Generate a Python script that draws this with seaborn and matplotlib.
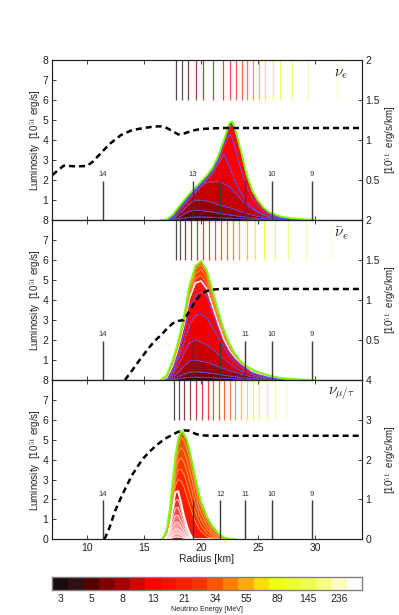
import numpy as np
import pandas as pd
import matplotlib
matplotlib.use("Agg")
import matplotlib.pyplot as plt
import seaborn as sns
from matplotlib.colors import ListedColormap

# ---------------- data ----------------
energy_ticklabels = ["3", "5", "8", "13", "21", "34", "55", "89", "145", "236"]
energy_colors = ['#1a0c0e', '#2e1015', '#560000', '#7e0000', '#a80000', '#d40000',
                 '#ff0000', '#ff1000', '#ff2000', '#ff3300', '#ff5500', '#ff8000',
                 '#ffaa00', '#ffdd00', '#eeff10', '#eeff30', '#f0ff50', '#f6ff80',
                 '#ffffc0', '#ffffff']

density_radius = [11.4, 19.3, 21.7, 23.85, 26.2, 29.7]
density_labels = ["14", "13", "12", "11", "10", "9"]

# nu_e
nue_sphere = [17.81, 18.31, 18.89, 19.53, 20.2, 21.08, 21.95, 22.54, 23.06, 23.56,
              24.0, 24.52, 25.1, 25.6, 26.27, 26.9, 27.93, 29.39, 31.93]
nue_dash_r = [7, 7.5, 8, 9, 10, 10.5, 11, 12, 13, 14, 15, 16, 16.5, 17, 17.5, 18, 18.5,
              19, 19.5, 20, 21, 22, 25, 30, 34]
nue_dash_L = [2.25, 2.5, 2.72, 2.68, 2.7, 2.9, 3.2, 3.8, 4.25, 4.5, 4.6, 4.68, 4.68, 4.6,
              4.45, 4.28, 4.32, 4.42, 4.5, 4.55, 4.58, 4.6, 4.6, 4.6, 4.6]
nue_r = [16.5, 17, 17.5, 18, 18.5, 19, 19.5, 20, 20.5, 21, 21.5, 22, 22.5, 22.75, 23,
         23.5, 24, 24.5, 25, 25.5, 26, 27, 28, 29, 30]
nue_L1 = [0, 0, 0, 0.04, 0.1, 0.14, 0.16, 0.16, 0.15, 0.14, 0.12, 0.11, 0.1, 0.09, 0.08,
          0.07, 0.05, 0.04, 0.03, 0.02, 0.015, 0.01, 0, 0, 0]
nue_L2 = [0, 0, 0.02, 0.12, 0.3, 0.45, 0.5, 0.48, 0.44, 0.4, 0.35, 0.3, 0.26, 0.24, 0.22,
          0.18, 0.14, 0.11, 0.08, 0.06, 0.04, 0.02, 0.01, 0, 0]
nue_L3 = [0, 0, 0.05, 0.3, 0.55, 0.85, 1.0, 1.0, 0.95, 0.87, 0.78, 0.7, 0.62, 0.57, 0.52,
          0.42, 0.33, 0.25, 0.19, 0.14, 0.1, 0.05, 0.02, 0, 0]
nue_L4 = [0, 0, 0.1, 0.45, 0.78, 1.1, 1.38, 1.72, 1.88, 1.92, 1.92, 1.82, 1.65, 1.5, 1.35,
          1.02, 0.76, 0.54, 0.38, 0.25, 0.16, 0.07, 0.03, 0.01, 0]
nue_L5 = [0, 0, 0.12, 0.48, 0.82, 1.16, 1.46, 1.76, 2.03, 2.35, 2.85, 3.3, 2.6, 2.28, 1.88,
          1.32, 0.9, 0.62, 0.42, 0.27, 0.17, 0.07, 0.03, 0.01, 0]
nue_L6 = [0, 0, 0.13, 0.5, 0.85, 1.19, 1.49, 1.79, 2.08, 2.44, 2.98, 3.75, 4.3, 4.0, 3.5,
          2.45, 1.67, 1.08, 0.68, 0.42, 0.27, 0.11, 0.05, 0.02, 0]
nue_L7 = [0, 0, 0.15, 0.52, 0.88, 1.22, 1.52, 1.82, 2.12, 2.5, 3.1, 3.9, 4.72, 4.76, 4.38,
          3.38, 2.2, 1.42, 0.92, 0.58, 0.36, 0.16, 0.07, 0.03, 0.01]
nue_T = [0, 0.03, 0.25, 0.62, 0.98, 1.32, 1.62, 1.92, 2.22, 2.6, 3.2, 4.0, 4.85, 4.92, 4.5,
         3.45, 2.25, 1.45, 0.95, 0.6, 0.38, 0.17, 0.08, 0.04, 0.01]

# anti nu_e
anue_sphere = [17.79, 18.16, 18.6, 19.12, 19.68, 20.2, 20.73, 21.22, 21.72, 22.25, 22.77,
               23.35, 24.0, 24.72, 25.54, 26.47, 27.64, 29.19, 31.37]
anue_dash_r = [13.35, 13.5, 14, 14.5, 15, 15.5, 16, 16.5, 17, 17.5, 18, 18.5, 19, 19.5, 20,
               20.5, 21, 22, 25, 30, 34]
anue_dash_L = [0, 0.12, 0.5, 0.9, 1.28, 1.65, 1.98, 2.25, 2.55, 2.82, 2.95, 3.0, 3.45, 3.95,
               4.3, 4.45, 4.52, 4.56, 4.56, 4.55, 4.55]
anue_r = [16.5, 17, 17.5, 18, 18.5, 19, 19.5, 20, 20.5, 21, 21.5, 22, 22.5, 23, 23.5, 24,
          24.5, 25, 26, 27, 28, 29, 30]
anue_B0 = [0, 0, 0.02, 0.06, 0.11, 0.14, 0.15, 0.14, 0.13, 0.12, 0.1, 0.09, 0.08, 0.06, 0.05,
           0.04, 0.03, 0.02, 0.01, 0.005, 0, 0, 0]
anue_B1 = [0, 0.01, 0.06, 0.17, 0.3, 0.4, 0.42, 0.4, 0.37, 0.33, 0.29, 0.25, 0.21, 0.17, 0.13,
           0.1, 0.08, 0.06, 0.03, 0.015, 0.007, 0, 0]
anue_B2 = [0, 0.03, 0.15, 0.4, 0.72, 0.97, 1.0, 0.95, 0.87, 0.78, 0.68, 0.57, 0.47, 0.38, 0.3,
           0.23, 0.17, 0.13, 0.07, 0.03, 0.015, 0.005, 0]
anue_B3 = [0, 0.05, 0.28, 0.75, 1.35, 1.9, 2.0, 1.9, 1.75, 1.55, 1.3, 1.05, 0.82, 0.62, 0.47,
           0.36, 0.27, 0.2, 0.1, 0.045, 0.02, 0.007, 0]
anue_B4 = [0, 0.08, 0.42, 1.08, 1.92, 2.82, 3.25, 3.3, 3.1, 2.6, 2.1, 1.6, 1.17, 0.87, 0.65,
           0.49, 0.36, 0.27, 0.14, 0.065, 0.03, 0.01, 0]
anue_B5 = [0, 0.1, 0.55, 1.35, 2.4, 3.6, 4.25, 4.42, 4.2, 3.35, 2.6, 1.9, 1.38, 1.02, 0.77,
           0.58, 0.41, 0.32, 0.17, 0.08, 0.035, 0.012, 0]
anue_W = [0, 0.12, 0.7, 1.6, 2.75, 4.1, 4.85, 4.95, 4.57, 3.7, 2.85, 2.05, 1.5, 1.12, 0.85,
          0.65, 0.44, 0.34, 0.19, 0.09, 0.04, 0.015, 0]
anue_O1 = [0, 0.15, 0.76, 1.66, 2.82, 4.25, 5.08, 5.25, 4.82, 3.9, 3.0, 2.18, 1.58, 1.17, 0.87,
           0.66, 0.47, 0.36, 0.2, 0.093, 0.043, 0.017, 0]
anue_O2 = [0, 0.18, 0.82, 1.72, 2.9, 4.4, 5.3, 5.55, 5.08, 4.1, 3.15, 2.3, 1.66, 1.21, 0.88,
           0.67, 0.49, 0.38, 0.21, 0.095, 0.046, 0.02, 0]
anue_O3 = [0, 0.22, 0.88, 1.8, 3.0, 4.55, 5.5, 5.78, 5.3, 4.3, 3.3, 2.4, 1.72, 1.25, 0.9,
           0.68, 0.5, 0.39, 0.215, 0.098, 0.048, 0.02, 0]
anue_T = [0, 0.25, 0.95, 1.9, 3.15, 4.75, 5.68, 5.95, 5.5, 4.5, 3.45, 2.5, 1.8, 1.3, 0.92,
          0.7, 0.52, 0.4, 0.22, 0.1, 0.05, 0.02, 0]

# nu_mu/tau
numu_sphere = [17.64, 18.05, 18.51, 19.04, 19.56, 20.09, 20.59, 21.08, 21.58, 22.04, 22.51,
               23.0, 23.5, 24.0, 24.52, 25.1, 25.75, 26.47, 27.44]
numu_dash_r = [11.55, 12, 12.5, 13, 13.5, 14, 14.5, 15, 15.5, 16, 16.5, 17, 17.5, 18, 18.5,
               19, 19.5, 20, 21, 25, 30, 34]
numu_dash_L = [0, 0.6, 1.45, 2.1, 2.7, 3.25, 3.7, 4.1, 4.4, 4.68, 4.9, 5.1, 5.25, 5.4, 5.47,
               5.45, 5.3, 5.22, 5.2, 5.2, 5.2, 5.2]
numu_r = [16.5, 16.75, 17, 17.25, 17.5, 17.75, 18, 18.25, 18.5, 18.75, 19, 19.25, 19.5,
          19.75, 20, 20.5, 21, 21.5, 22, 22.5, 23]
numu_I0 = [0, 0, 0, 0.03, 0.08, 0.12, 0.12, 0.09, 0.06, 0.03, 0.01, 0, 0, 0, 0, 0, 0, 0, 0, 0, 0]
numu_I1 = [0, 0, 0.01, 0.07, 0.19, 0.29, 0.29, 0.22, 0.14, 0.07, 0.02, 0, 0, 0, 0, 0, 0, 0, 0, 0, 0]
numu_I2 = [0, 0, 0.02, 0.13, 0.35, 0.53, 0.53, 0.4, 0.25, 0.12, 0.04, 0, 0, 0, 0, 0, 0, 0, 0, 0, 0]
numu_I3 = [0, 0, 0.04, 0.22, 0.58, 0.86, 0.86, 0.64, 0.4, 0.2, 0.07, 0, 0, 0, 0, 0, 0, 0, 0, 0, 0]
numu_I4 = [0, 0.01, 0.06, 0.3, 0.8, 1.2, 1.2, 0.9, 0.58, 0.3, 0.1, 0.01, 0, 0, 0, 0, 0, 0, 0, 0, 0]
numu_I5 = [0, 0.01, 0.08, 0.4, 1.05, 1.58, 1.6, 1.2, 0.78, 0.4, 0.15, 0.02, 0, 0, 0, 0, 0, 0, 0, 0, 0]
numu_I6 = [0, 0.02, 0.1, 0.5, 1.3, 1.95, 2.0, 1.5, 0.98, 0.52, 0.2, 0.03, 0, 0, 0, 0, 0, 0, 0, 0, 0]
numu_W = [0, 0.05, 0.15, 0.65, 1.58, 2.35, 2.42, 1.85, 1.2, 0.7, 0.3, 0.07, 0, 0, 0, 0, 0, 0, 0, 0, 0]
numu_Q0 = [0, 0.06, 0.28, 0.88, 1.85, 2.72, 3.02, 2.92, 2.62, 2.17, 1.7, 1.28, 0.9, 0.6, 0.4,
           0.15, 0.05, 0.01, 0, 0, 0]
numu_Q1 = [0, 0.07, 0.32, 0.98, 2.02, 3.02, 3.5, 3.52, 3.27, 2.82, 2.3, 1.8, 1.35, 0.98, 0.68,
           0.31, 0.12, 0.03, 0, 0, 0]
numu_Q2 = [0, 0.08, 0.36, 1.08, 2.2, 3.32, 3.95, 4.1, 3.88, 3.42, 2.88, 2.33, 1.8, 1.35, 0.98,
           0.5, 0.22, 0.07, 0.01, 0, 0]
numu_Q3 = [0, 0.09, 0.4, 1.18, 2.4, 3.62, 4.38, 4.62, 4.42, 4.0, 3.45, 2.85, 2.25, 1.72, 1.3,
           0.7, 0.34, 0.13, 0.03, 0, 0]
numu_Q4 = [0, 0.1, 0.44, 1.28, 2.58, 3.9, 4.75, 5.12, 4.95, 4.55, 4.0, 3.35, 2.7, 2.1, 1.6,
           0.92, 0.48, 0.2, 0.06, 0.01, 0]
numu_T = [0, 0.12, 0.5, 1.4, 2.78, 4.15, 5.02, 5.45, 5.3, 5.0, 4.45, 3.8, 3.1, 2.45, 1.9,
          1.15, 0.65, 0.3, 0.1, 0.03, 0]

# ---------------- style ----------------
sns.set_theme(style="white")
plt.rcParams['font.family'] = ['Liberation Sans', 'DejaVu Sans']
plt.rcParams['axes.linewidth'] = 0.8
plt.rcParams['axes.edgecolor'] = '#222222'
plt.rcParams['mathtext.fontset'] = 'cm'

BLUE = '#4a4aff'
GREEN = '#77ff00'
ORANGE = '#ff8c40'
XL = (6.96, 34.09)

fig = plt.figure(figsize=(3.99, 6.15), dpi=100)
L, W = 52 / 399, 310 / 399
ax1 = fig.add_axes([L, (615 - 220) / 615, W, 160 / 615])
ax2 = fig.add_axes([L, (615 - 380) / 615, W, 160 / 615])
ax3 = fig.add_axes([L, (615 - 539.3) / 615, W, 159.3 / 615])
cax = fig.add_axes([52.3 / 399, (615 - 590) / 615, 310 / 399, 12.7 / 615])


def stack(ax, r, bounds, fills, edges, widths):
    lower = np.zeros(len(r))
    for b, fc in zip(bounds, fills):
        ax.fill_between(r, lower, b, color=fc, lw=0, zorder=2)
        lower = np.asarray(b, dtype=float)
    for b, ec, ew in zip(bounds, edges, widths):
        ax.plot(r, b, color=ec, lw=ew, zorder=3, solid_joinstyle='round')


def decorate(ax, spheres, dash_r, dash_L, label, rmax, rticks, rlabels, ylabels_left,
             show_x):
    ax.vlines(spheres, 6, 8, colors=energy_colors[:len(spheres)], lw=0.9, alpha=0.75,
              zorder=2)
    ax.vlines(density_radius, 0, 1.95, colors='#3a3a3a', lw=1.0, zorder=4)
    for x, t in zip(density_radius, density_labels):
        ax.text(x, 2.08, t, ha='center', va='bottom', fontsize=5.5, color='#333333',
                zorder=1)
    sns.lineplot(x=dash_r, y=dash_L, ax=ax, color='black', lw=1.8, zorder=5)
    ax.get_lines()[-1].set_dashes((2.4, 1.6))
    ax.text(32.3, 7.3, label, ha='center', va='center', fontsize=11, color='#222222')
    ax.set_xlim(*XL)
    ax.set_ylim(0, 8)
    ax.set_xticks([10, 15, 20, 25, 30])
    ax.set_yticks(ylabels_left)
    ax.set_yticklabels([str(v) for v in ylabels_left])
    ax.tick_params(axis='both', direction='in', length=3, width=0.6, labelsize=7.5,
                   pad=2.5, top=True, bottom=True, left=True, right=False,
                   colors='#222222')
    if not show_x:
        ax.set_xticklabels([])
    ax.set_xlabel('')
    ax.set_ylabel(r'Luminosity  [10$^{51}$ erg/s]', fontsize=7, color='#222222')
    ax.yaxis.set_label_coords(-0.03, 0.5)
    axr = ax.twinx()
    axr.set_ylim(0, rmax)
    axr.set_yticks(rticks)
    axr.set_yticklabels(rlabels)
    axr.tick_params(axis='y', direction='in', length=3, width=0.6, labelsize=7.5, pad=2.5,
                    colors='#222222')
    axr.set_ylabel(r'[10$^{51}$  erg/s/km]', fontsize=7, color='#222222')
    axr.yaxis.set_label_coords(1.068, 0.5)
    for s in axr.spines.values():
        s.set_linewidth(0.8)
    return axr


# panel 1: nu_e
stack(ax1, nue_r,
      [nue_L1, nue_L2, nue_L3, nue_L4, nue_L5, nue_L6, nue_L7, nue_T],
      ['#3a0505', '#6e0000', '#980000', '#c40000', '#e60000', '#ff0000', '#ff0a00', '#8a3a00'],
      [BLUE] * 7 + [GREEN], [0.6] * 7 + [1.3])
decorate(ax1, nue_sphere, nue_dash_r, nue_dash_L, r'$\nu_e$', 2,
         [0.5, 1, 1.5, 2], ['0.5', '1', '1.5', '2'], list(range(1, 9)), False)

# panel 2: anti nu_e
stack(ax2, anue_r,
      [anue_B0, anue_B1, anue_B2, anue_B3, anue_B4, anue_B5, anue_W, anue_O1, anue_O2,
       anue_O3, anue_T],
      ['#4a0000', '#7a0000', '#a00000', '#cc0000', '#ee0000', '#ff0000', '#ff1400',
       '#ff2a00', '#ff3a00', '#ff4600', '#ff5400'],
      [BLUE] * 6 + ['#eef0ff'] + [ORANGE] * 3 + [GREEN], [0.6] * 6 + [1.2] + [0.6] * 3 + [1.3])
decorate(ax2, anue_sphere, anue_dash_r, anue_dash_L, r'$\bar{\nu}_e$', 2,
         [0.5, 1, 1.5, 2], ['0.5', '1', '1.5', '2'], list(range(1, 9)), False)

# panel 3: nu_mu/tau
stack(ax3, numu_r,
      [numu_I0, numu_I1, numu_I2, numu_I3, numu_I4, numu_I5, numu_I6, numu_W, numu_Q0,
       numu_Q1, numu_Q2, numu_Q3, numu_Q4, numu_T],
      ['#a02828', '#f0a0a0', '#ffb8b8', '#ff9a9a', '#ff7070', '#ff4848', '#ff2626',
       '#ff1010', '#ff1a00', '#ff2800', '#f83800', '#f04800', '#e85800', '#e06400'],
      ['#fff0f0'] * 7 + ['#ffffff'] + ['#ff9a40'] * 5 + [GREEN],
      [0.6] * 7 + [1.4] + [0.6] * 5 + [1.3])
decorate(ax3, numu_sphere, numu_dash_r, numu_dash_L, r'$\nu_{\mu/\tau}$', 4,
         [0, 1, 2, 3, 4], ['0', '1', '2', '3', '4'], list(range(0, 9)), True)
ax3.set_xlabel('Radius [km]', fontsize=7.5, labelpad=1, color='#222222')

# colorbar (heatmap of energy bins)
cb_df = pd.DataFrame([np.arange(len(energy_colors))])
sns.heatmap(cb_df, ax=cax, cmap=ListedColormap(energy_colors), cbar=False,
            vmin=-0.5, vmax=len(energy_colors) - 0.5, xticklabels=False,
            yticklabels=False, linewidths=0)
cax.set_xticks(np.arange(0, len(energy_colors), 2) + 0.5)
cax.set_xticklabels(energy_ticklabels)
cax.set_xticks(np.arange(1, len(energy_colors)), minor=True)
cax.set_yticks([])
cax.tick_params(axis='x', which='major', length=0, labelsize=7.5, pad=3,
                colors='#222222')
cax.tick_params(axis='x', which='minor', direction='in', length=2.5, width=0.6,
                top=True, bottom=True, color='#555555')
for s in cax.spines.values():
    s.set_visible(True)
    s.set_color('#808080')
    s.set_linewidth(1.0)
cax.set_xlabel('Neutrino Energy [MeV]', fontsize=5, labelpad=1.5, color='#222222')
cax.set_ylabel('')

fig.savefig('out.png', dpi=100)
